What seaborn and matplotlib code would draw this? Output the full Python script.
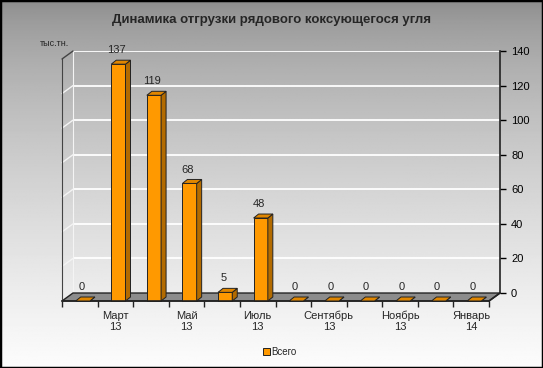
import numpy as np
import pandas as pd
import matplotlib
matplotlib.use("Agg")
import matplotlib.pyplot as plt
from matplotlib.patches import Polygon, Rectangle
from matplotlib.lines import Line2D
import seaborn as sns

# data
months = ["Февраль", "Март", "Апрель", "Май", "Июнь", "Июль",
          "Август", "Сентябрь", "Октябрь", "Ноябрь", "Декабрь", "Январь"]
years = ["13", "13", "13", "13", "13", "13", "13", "13", "13", "13", "13", "14"]
values = [0, 137, 119, 68, 5, 48, 0, 0, 0, 0, 0, 0]
y_ticks = [0, 20, 40, 60, 80, 100, 120, 140]
title = "Динамика отгрузки рядового коксующегося угля"
unit_label = "тыс.тн."
series_name = "Всего"

sns.set_style("white")
plt.rcParams["font.family"] = ["Liberation Sans", "DejaVu Sans"]

W, H = 543, 368
fig = plt.figure(figsize=(W / 100, H / 100), dpi=100)


def box(x0, yb, x1, yt):
    return [x0 / W, 1 - yb / H, (x1 - x0) / W, (yb - yt) / H]


def fp(x, y):
    return (x / W, 1 - y / H)


# background gradient
bg = fig.add_axes([0, 0, 1, 1], zorder=-5)
t = np.linspace(0, 1, 300)[:, None]
shade = 0.54 + 0.45 * t ** 0.65
bg.imshow(np.repeat(shade, 2, axis=1), cmap="gray", vmin=0, vmax=1,
          aspect="auto", extent=[0, 1, 0, 1])
bg.axis("off")

# geometry of the 3d box (pixels)
fx0, fx1, fy0, fy1 = 62, 489, 301, 59
dx, dy = 11, 8

# back wall with grid and right axis
back = fig.add_axes(box(fx0 + dx, fy0 - dy, fx1 + dx, fy1 - dy), zorder=-3)
back.set_facecolor("none")
back.set_ylim(0, 140)
back.set_xlim(0, 1)
back.set_xticks([])
back.set_yticks(y_ticks)
back.yaxis.tick_right()
back.grid(axis="y", color="white", lw=1.3)
back.tick_params(axis="y", right=True, length=4, width=1, pad=4, labelsize=8, colors="black")
for s in ["top", "bottom"]:
    back.spines[s].set_visible(False)
back.spines["left"].set_color("#f4f4f4")
back.spines["right"].set_color("#222222")
back.spines["right"].set_linewidth(1.2)

# floor
floor = Polygon([fp(fx0, fy0), fp(fx1, fy0), fp(fx1 + dx, fy0 - dy), fp(fx0 + dx, fy0 - dy)],
                closed=True, transform=fig.transFigure, facecolor="#8c8c8c",
                edgecolor="#222222", lw=1, zorder=-2)
fig.add_artist(floor)

# left wall diagonals
ppu = (fy0 - fy1) / 140
for v in y_ticks[1:]:
    col = "#444444" if v == 140 else "#f4f4f4"
    fig.add_artist(Line2D([fx0 / W, (fx0 + dx) / W],
                          [1 - (fy0 - v * ppu) / H, 1 - (fy0 - dy - v * ppu) / H],
                          transform=fig.transFigure, color=col, lw=1, zorder=-2))

# front axes with bars
front = fig.add_axes(box(fx0, fy0, fx1, fy1), zorder=1)
front.set_facecolor("none")
df = pd.DataFrame({"month": months, "value": values})
sns.barplot(data=df, x="month", y="value", color="#ff9900", saturation=1, width=0.4,
            edgecolor="#222222", linewidth=0.7, label=series_name, ax=front)
front.set_xlim(-0.5, 11.5)
front.set_ylim(0, 140)
front.set_xlabel("")
front.set_ylabel("")
front.set_yticks([])

ux = (fx1 - fx0) / 12
ddx, ddy = 5 / ux, 4 / ppu
for p in front.patches:
    p.set_x(p.get_x() + 3 / ux)
    p.set_clip_on(False)
    x0, w, h = p.get_x(), p.get_width(), p.get_height()
    side = Polygon([(x0 + w, 0), (x0 + w + ddx, ddy), (x0 + w + ddx, h + ddy), (x0 + w, h)],
                   facecolor="#b36b00", edgecolor="#222222", lw=0.7, clip_on=False, zorder=3)
    top = Polygon([(x0, h), (x0 + w, h), (x0 + w + ddx, h + ddy), (x0 + ddx, h + ddy)],
                  facecolor="#e08600", edgecolor="#222222", lw=0.7, clip_on=False, zorder=3)
    front.add_patch(side)
    front.add_patch(top)

for i, v in enumerate(values):
    front.annotate(str(v), (i + 1.5 / ux, v), xytext=(0, 10), textcoords="offset points",
                   ha="center", va="center", fontsize=8)

front.set_xticks(range(1, 12, 2))
front.set_xticklabels([months[i] + "\n" + years[i] for i in range(1, 12, 2)],
                      fontsize=8, linespacing=1.1)
front.set_xticks(np.arange(-0.5, 12, 1), minor=True)
front.tick_params(axis="x", which="major", length=0, pad=7)
front.tick_params(axis="x", which="minor", bottom=True, length=4, width=1, color="#222222")
for s in ["top", "right"]:
    front.spines[s].set_visible(False)
front.spines["bottom"].set_color("#222222")
front.spines["left"].set_color("#444444")
front.spines["bottom"].set_linewidth(1.2)

# right wall edge
fig.add_artist(Line2D([fx1 / W, (fx1 + dx) / W], [1 - fy0 / H, 1 - (fy0 - dy) / H],
                      transform=fig.transFigure, color="#222222", lw=1.2, zorder=2))

# legend
h_, l_ = front.get_legend_handles_labels()
front.legend(h_[:1], l_[:1], loc="center", bbox_to_anchor=(280 / W, 1 - 352 / H),
             bbox_transform=fig.transFigure, frameon=False, fontsize=7,
             handlelength=0.7, handleheight=0.7, handletextpad=0.2)

fig.text(271 / W, 1 - 20 / H, title, ha="center", va="center", fontsize=9.5, fontweight="bold")
fig.text(55 / W, 1 - 43 / H, unit_label, ha="center", va="center", fontsize=6.5)

fig.add_artist(Rectangle((0, 0), 1, 1, transform=fig.transFigure, fill=False,
                         edgecolor="black", lw=2.5, zorder=10))

fig.savefig("out.png", dpi=100)
